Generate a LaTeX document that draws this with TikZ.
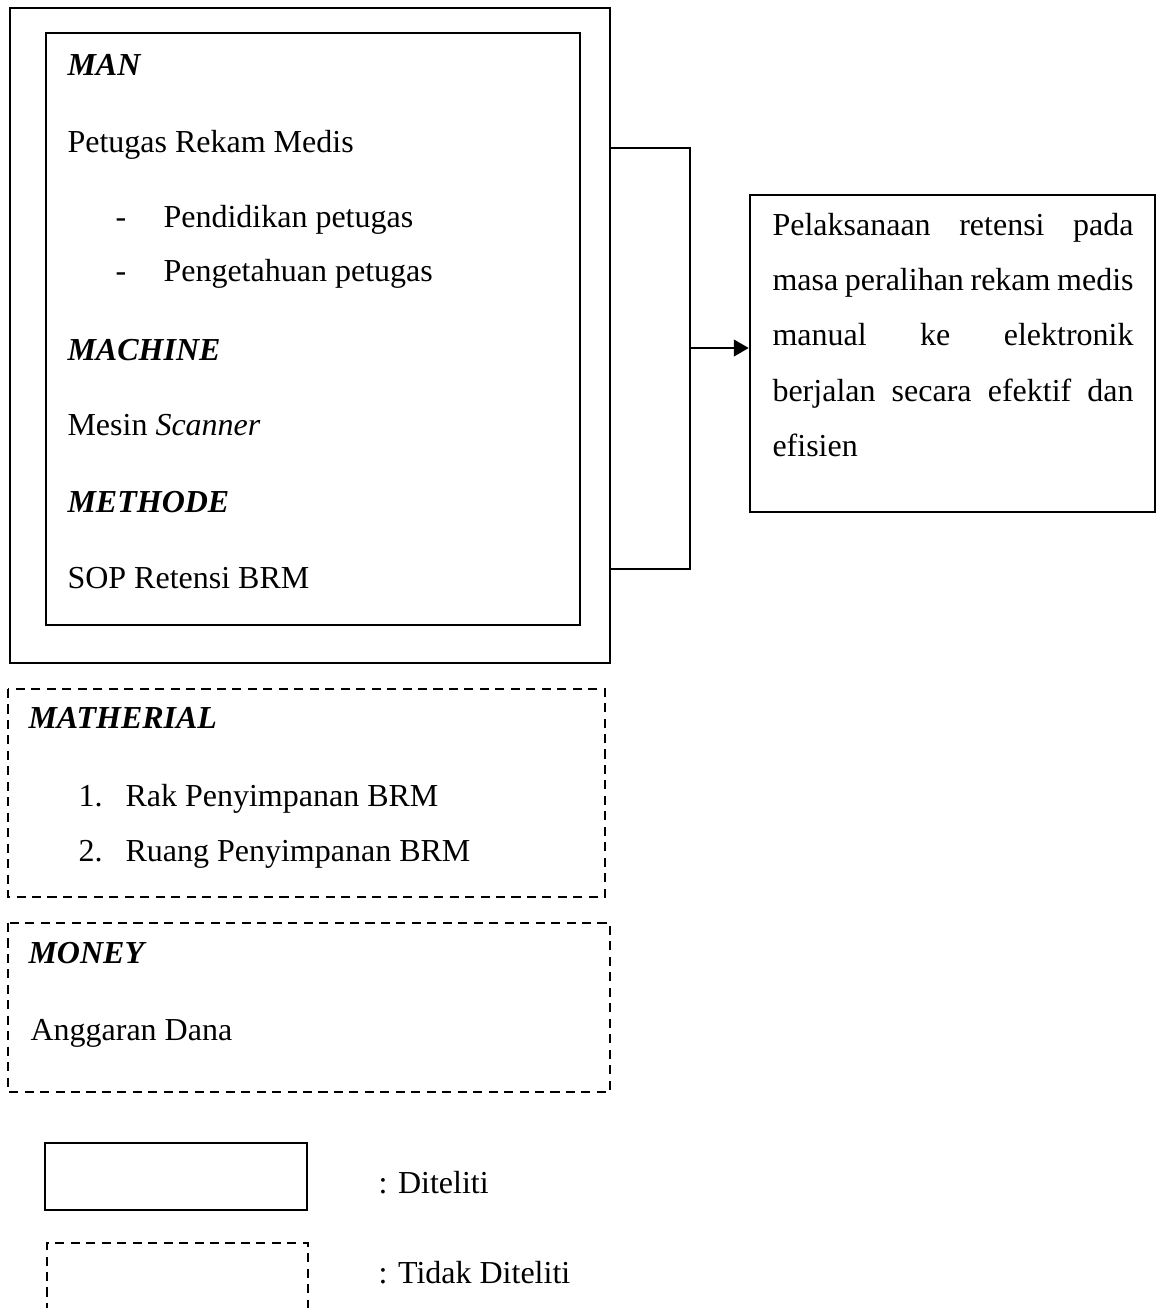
\documentclass[tikz,border=0pt]{standalone}
\usepackage{fontspec}
\setmainfont{Liberation Serif}
\usetikzlibrary{arrows.meta,calc}

\tikzset{
  box/.style={draw, line width=0.9pt},
  dashbox/.style={draw, line width=1pt, dash pattern=on 3.4pt off 2.4pt},
  lbl/.style={anchor=base west, inner sep=0pt, font=\fontsize{12}{14}\selectfont},
  head/.style={lbl, font=\fontsize{12}{14}\selectfont\bfseries\itshape}
}
\newcommand{\jline}[1]{\makebox[135.4pt][s]{\spaceskip=0pt\relax #1}}

\begin{document}
\begin{tikzpicture}[x=0.375pt,y=-0.375pt]

\useasboundingbox (0,0) rectangle (1157,1308);

\draw[box] (10,8) rectangle (610,663);
\draw[box] (46,33) rectangle (580,625);

\node[head] (man) at (67,75) {MAN};
\node[lbl] (petugas) at (67,152) {Petugas Rekam Medis};
\node[lbl] (dasha) at (115,227) {-};
\node[lbl] (pendidikan) at (163,227) {Pendidikan petugas};
\node[lbl] (dashb) at (115,281) {-};
\node[lbl] (pengetahuan) at (163,281) {Pengetahuan petugas};
\node[head] (machine) at (67,360) {MACHINE};
\node[lbl] (mesin) at (67,435) {Mesin \textit{Scanner}};
\node[head] (methode) at (67,512) {METHODE};
\node[lbl] (sop) at (67,588) {SOP Retensi BRM};

% hasil
\node[box, minimum width=151.9pt, minimum height=118.9pt, inner sep=0pt] (result) at (952.5,353.5) {};
\node[lbl, text width=135.4pt, align=left, font=\fontsize{12}{20.8}\selectfont] (resulttext) at (772,235)
  {\jline{Pelaksanaan retensi pada}\\
   \jline{masa peralihan rekam medis}\\
   \jline{manual ke elektronik}\\
   \jline{berjalan secara efektif dan}\\
   efisien};

\coordinate (bt) at (610,148);
\coordinate (bb) at (610,569);
\coordinate (bm) at (690,348);
\draw[box] (bt) -- (690,148) -- (690,569) -- (bb);
\draw[line width=0.9pt, -{Triangle[length=5.6pt,width=6.2pt]}] (bm) -- (bm -| result.west);

\draw[dashbox] (8,689) rectangle (605,897);
\node[head] (matherial) at (28,728) {MATHERIAL};
\node[lbl] (numa) at (78,806) {1.};
\node[lbl] (rak) at (125,806) {Rak Penyimpanan BRM};
\node[lbl] (numb) at (78,861) {2.};
\node[lbl] (ruang) at (125,861) {Ruang Penyimpanan BRM};

\draw[dashbox] (8,923) rectangle (610,1092);
\node[head] (money) at (28,963) {MONEY};
\node[lbl] (dana) at (30,1040) {Anggaran Dana};

% keterangan
\draw[box] (45,1143) rectangle (307,1210);
\draw[dashbox] (47,1312) -- (47,1243) -- (308,1243) -- (308,1312);
\node[lbl] (diteliti) at (378,1193) {: Diteliti};
\node[lbl] (tidak) at (378,1283) {: Tidak Diteliti};

\end{tikzpicture}
\end{document}
